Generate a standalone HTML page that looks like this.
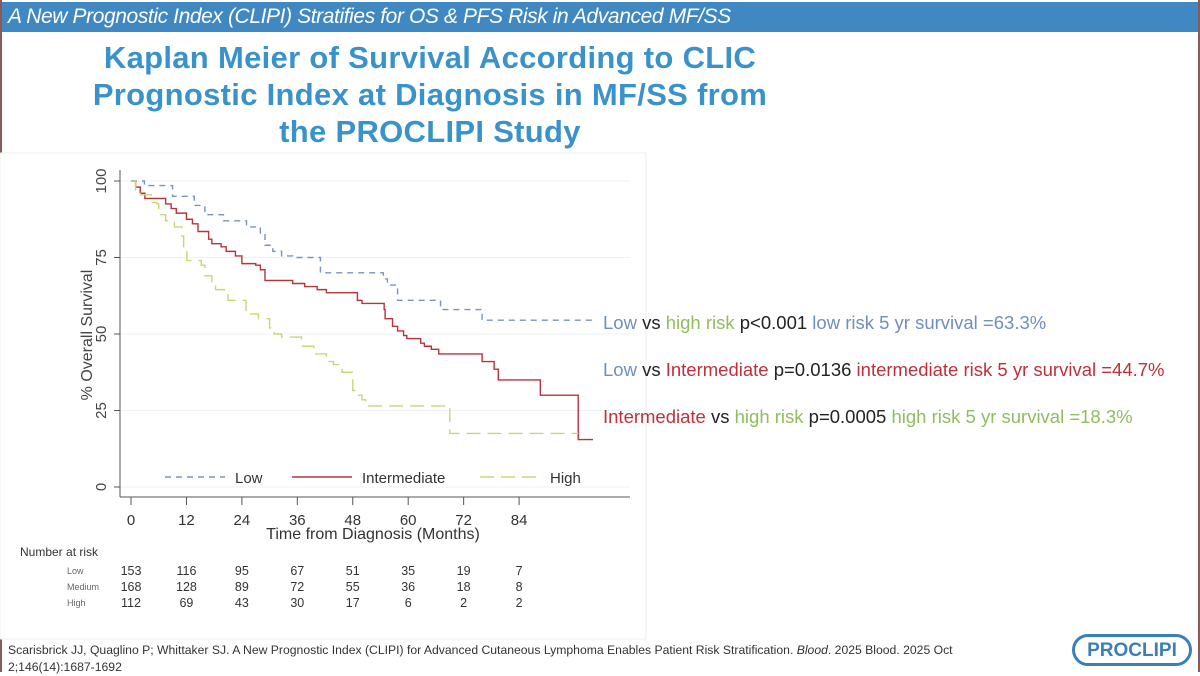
<!DOCTYPE html>
<html><head><meta charset="utf-8"><style>
body{margin:0;width:1200px;height:676px;overflow:hidden;background:#fff;font-family:"Liberation Sans",sans-serif;position:relative}
.frame{position:absolute;left:0;top:0;width:1196px;height:672px;border:2px solid #8a5a5a;border-top:none;border-bottom:none}
.banner{position:absolute;left:2px;top:2px;width:1196px;height:30px;background:#3f88c1;color:#fff;font-style:italic;font-size:21px;line-height:30px;padding-left:6px;box-sizing:border-box;letter-spacing:-0.4px}
.title{position:absolute;left:40px;top:39px;width:780px;text-align:center;color:#3a92cb;font-weight:bold;font-size:31px;line-height:37px;letter-spacing:0.3px}
.ann{position:absolute;left:603px;font-size:18.5px;white-space:nowrap}
.b{color:#6f8fbf}.r{color:#c0303a}.g{color:#8fbd5f}.k{color:#222}
.ref{position:absolute;left:8px;top:642px;font-size:12.2px;color:#333;line-height:17px;width:980px}
.logo{position:absolute;left:1072px;top:634px;width:120px;height:32px;border:3px solid #3b7fb8;border-radius:18px;box-sizing:border-box;color:#3b7fb8;font-weight:bold;font-size:19px;text-align:center;line-height:27px}
</style></head><body>
<div class="frame"></div>
<div class="banner">A New Prognostic Index (CLIPI) Stratifies for OS &amp; PFS Risk in Advanced MF/SS</div>
<div class="title">Kaplan Meier of Survival According to CLIC<br>Prognostic Index at Diagnosis in MF/SS from<br>the PROCLIPI Study</div>
<svg id="chart" style="position:absolute;left:0;top:150px" width="650" height="490" viewBox="0 150 650 490"></svg>
<div class="ann" style="top:312px"><span class="b">Low</span> <span class="k">vs</span> <span class="g">high risk</span> <span class="k">p&lt;0.001</span> <span class="b">low risk 5 yr survival =63.3%</span></div>
<div class="ann" style="top:359px"><span class="b">Low</span> <span class="k">vs</span> <span class="r">Intermediate</span> <span class="k">p=0.0136</span> <span class="r">intermediate risk 5 yr survival =44.7%</span></div>
<div class="ann" style="top:406px"><span class="r">Intermediate</span> <span class="k">vs</span> <span class="g">high risk</span> <span class="k">p=0.0005</span> <span class="g">high risk 5 yr survival =18.3%</span></div>
<div class="ref">Scarisbrick JJ, Quaglino P; Whittaker SJ. A New Prognostic Index (CLIPI) for Advanced Cutaneous Lymphoma Enables Patient Risk Stratification. <i>Blood</i>. 2025 Blood. 2025 Oct 2;146(14):1687-1692</div>
<div class="logo">PROCLIPI</div>
<script>
const xTicks=[0,12,24,36,48,60,72,84];
const yTicks=[0,25,50,75,100];
const riskGroups=["Low","Medium","High"];
const riskLow=[153,116,95,67,51,35,19,7];
const riskMed=[168,128,89,72,55,36,18,8];
const riskHigh=[112,69,43,30,17,6,2,2];
const lowT=[0,2.9,9,13.7,16,20,25,28,29,30.7,32.6,35,41,54.6,55.5,57.7,67,76,100];
const lowS=[100,98.5,95,92,89,87,85,83,79,77,75.5,75,70,68,66,61,58,54.5,54.5];
const intT=[0,1,2,3,7.5,8.7,9.8,12,13.3,14.5,16.8,17.5,19.5,20.6,22.6,24,27,28,29,35,37.6,40.3,42.3,49,50,54.8,55,56.6,57.7,59,59.7,62.7,63.5,65,66.6,76,78.6,79.5,88.6,96.8,100];
const intS=[100,98,96,94.3,92.5,91,89.5,87.5,86,83.5,81,79.5,78.5,77,75.5,73,72.5,71,67.5,66.5,65.5,64.5,63.5,61,60,58,55,52.5,51,49.5,48.5,47,46,45,43.5,41,38.5,35,30,15.5,15.5];
const highT=[0,1,2,4.4,5.6,6,7.5,9.4,11,11.4,12.1,15.2,16,17.5,18.3,20.2,21,24.9,27.6,30,31,32.6,36.9,39.6,42.3,43.8,45.7,48,48.8,50,50.8,69,96.8];
const highS=[100,97,95.5,93,92.5,89,87,85,82,77.5,74,72.5,69,67,64.5,63.5,61,56.5,55,52,50,49,46,43.5,41,40,37.5,31.5,30,28.5,26.5,17.5,17.5];
const NS="http://www.w3.org/2000/svg";
const svg=document.getElementById('chart');
const xs=m=>131+m*4.62;
const ys=p=>487-p*3.06;
function mk(tag,attrs,parent){const e=document.createElementNS(NS,tag);for(const k in attrs)e.setAttribute(k,attrs[k]);(parent||svg).appendChild(e);return e;}
const panel=mk('rect',{x:0,y:153,width:646,height:486,fill:'#fff',stroke:'#eee'});


yTicks.forEach(v=>{
  const g=mk('line',{x1:120,x2:630,y1:ys(v),y2:ys(v),stroke:'#eef2f4','stroke-width':1});
  
  
  const t=mk('line',{x1:114,x2:120,y1:ys(v),y2:ys(v),stroke:'#555'});
  
  
  const l=mk('text',{x:0,y:0,transform:`translate(106,${ys(v)}) rotate(-90)`,'text-anchor':'middle','font-size':15,fill:'#444'});
  l.textContent=v;
  
  
});
let a=mk('line',{x1:120,x2:120,y1:170,y2:497,stroke:'#555'});


a=mk('line',{x1:120,x2:630,y1:497,y2:497,stroke:'#555'});


const yt=mk('text',{x:0,y:0,transform:'translate(92,335) rotate(-90)','text-anchor':'middle','font-size':16,fill:'#444'});
yt.textContent='% Overall Survival';


xTicks.forEach((v,i)=>{
  const t=mk('line',{x1:xs(v),x2:xs(v),y1:497,y2:505,stroke:'#555'});
  
  
  const l=mk('text',{x:xs(v),y:525,'text-anchor':'middle','font-size':15,fill:'#333'});
  l.textContent=v;
  
  
  [riskLow,riskMed,riskHigh].forEach((arr,j)=>{
    const n=mk('text',{x:xs(v),y:575+j*16,'text-anchor':'middle','font-size':12.5,fill:'#333'});
    n.textContent=arr[i];
    
    
  });
});
const xt=mk('text',{x:373,y:539,'text-anchor':'middle','font-size':16,fill:'#333'});
xt.textContent='Time from Diagnosis (Months)';


const nr=mk('text',{x:20,y:556,'font-size':12,fill:'#333'});
nr.textContent='Number at risk';


riskGroups.forEach((g,j)=>{
  const t=mk('text',{x:67,y:574+j*16,'font-size':9,fill:'#666'});
  t.textContent=g;
  
  
});
function step(T,S){let d=`M${xs(T[0])},${ys(S[0])}`;for(let i=1;i<T.length;i++){d+=` H${xs(T[i])} V${ys(S[i])}`;}return d;}
const series=[[lowT,lowS,'#7a93bd','6,5','low'],[intT,intS,'#b8343c','','intermediate'],[highT,highS,'#c6d77a','14,7','high']];
series.forEach(([T,S,c,da,n])=>{
  const p=mk('path',{d:step(T,S),fill:'none',stroke:c,'stroke-width':1.4,'stroke-dasharray':da});
  
  
});
const leg=[[165,'Low','#7a93bd','6,5'],[292,'Intermediate','#b8343c',''],[480,'High','#c6d77a','14,7']];
leg.forEach(([x,t,c,da])=>{
  const l=mk('line',{x1:x,x2:x+60,y1:477,y2:477,stroke:c,'stroke-width':1.4,'stroke-dasharray':da});
  
  
  const tx=mk('text',{x:x+70,y:483,'font-size':15,fill:'#333'});
  tx.textContent=t;
  
  
});
</script>
</body></html>
